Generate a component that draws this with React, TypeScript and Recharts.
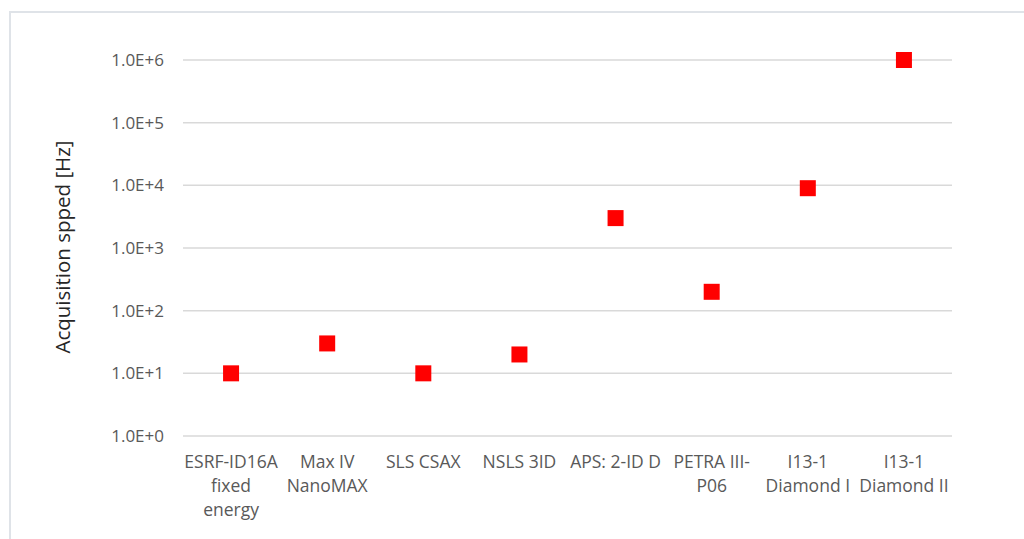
import { ScatterChart, Scatter, XAxis, YAxis, CartesianGrid } from "recharts";

// beamlines, labels split on \n the way the original wraps them
const beamlines = [
  "ESRF-ID16A\nfixed\nenergy",
  "Max IV\nNanoMAX",
  "SLS CSAX",
  "NSLS 3ID",
  "APS: 2-ID D",
  "PETRA III-\nP06",
  "I13-1\nDiamond I",
  "I13-1\nDiamond II",
];

// acquisition speed in Hz
const speeds = [10, 30, 10, 20, 3000, 200, 9000, 1000000];

const yTicks = [1, 10, 100, 1000, 10000, 100000, 1000000];

const data = beamlines.map((name, i) => ({ name, speed: speeds[i] }));

const FONT = "'Open Sans', sans-serif";
const TEXT = "#595959";

const sciLabel = (v: number) => `1.0E+${Math.round(Math.log10(v))}`;

const CategoryTick = ({ x, y, payload }: any) => {
  const lines = String(payload.value).split("\n");
  return (
    <text x={x} y={y} textAnchor="middle" fill={TEXT} fontSize={17.5} fontFamily={FONT}>
      {lines.map((line, i) => (
        <tspan key={i} x={x} dy={i === 0 ? 32 : 24}>
          {line}
        </tspan>
      ))}
    </text>
  );
};

const SquareDot = ({ cx, cy }: any) => (
  <rect x={cx - 8} y={cy - 8} width={16} height={16} fill="#ff0000" />
);

const App = () => {
  return (
    <div
      style={{
        position: "absolute",
        left: 0,
        top: 0,
        width: 1024,
        height: 539,
        overflow: "hidden",
        background: "#fff",
      }}
    >
      <div
        style={{
          position: "absolute",
          left: 9,
          top: 11,
          width: 1100,
          height: 600,
          border: "2px solid #dfe3e8",
        }}
      />
      <div style={{ position: "absolute", left: 0, top: 0 }}>
        <ScatterChart
          width={1024}
          height={539}
          margin={{ top: 60, right: 72, bottom: 0, left: 0 }}
        >
          <CartesianGrid vertical={false} stroke="#d9d9d9" strokeWidth={1.5} />
          <XAxis
            dataKey="name"
            type="category"
            allowDuplicatedCategory={false}
            height={103}
            axisLine={false}
            tickLine={false}
            tickSize={0}
            tickMargin={0}
            interval={0}
            tick={<CategoryTick />}
          />
          <YAxis
            dataKey="speed"
            type="number"
            scale="log"
            domain={[1, 1000000]}
            ticks={yTicks}
            width={183}
            axisLine={false}
            tickLine={false}
            tickSize={0}
            tickMargin={19}
            tickFormatter={sciLabel}
            tick={{ fill: TEXT, fontSize: 17, fontFamily: FONT }}
            label={() => (
              <text
                x={62}
                y={247}
                transform="rotate(-90 62 247)"
                textAnchor="middle"
                dominantBaseline="central"
                fill="#262626"
                fontSize={20.5}
                fontFamily={FONT}
              >
                Acquisition spped [Hz]
              </text>
            )}
          />
          <Scatter data={data} shape={<SquareDot />} isAnimationActive={false} />
        </ScatterChart>
      </div>
    </div>
  );
};

export default App;
